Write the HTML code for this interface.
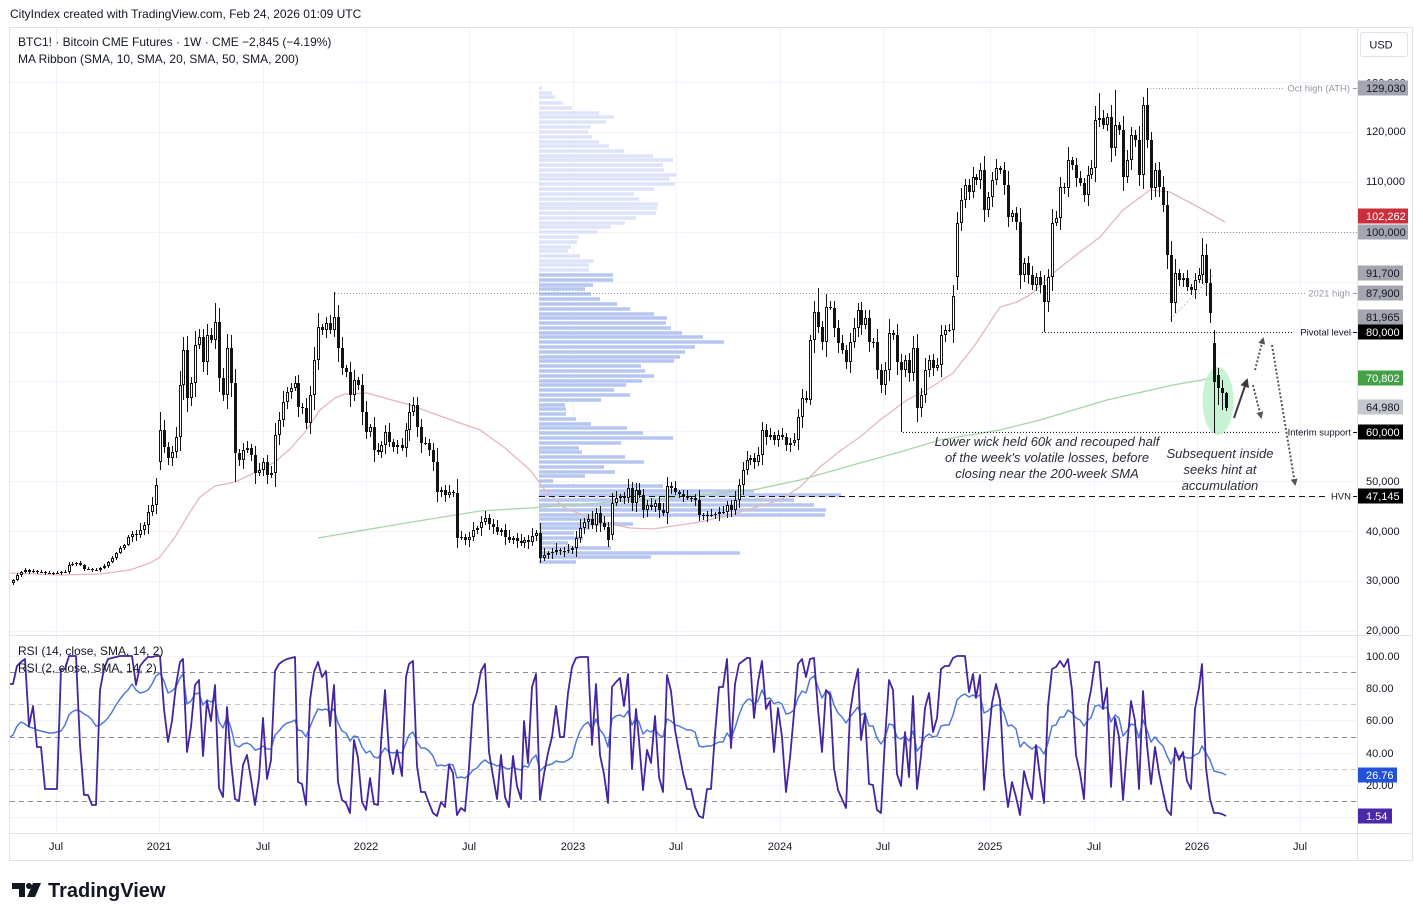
<!DOCTYPE html>
<html><head><meta charset="utf-8">
<style>
html,body{margin:0;padding:0;background:#fff;}
svg{display:block;font-family:"Liberation Sans",Arial,sans-serif;}
</style></head><body>
<svg width="1423" height="921" viewBox="0 0 1423 921" xmlns="http://www.w3.org/2000/svg">
<defs>
<clipPath id="cm"><rect x="10" y="28" width="1347" height="607"/></clipPath>
<clipPath id="cr"><rect x="10" y="636" width="1347" height="197"/></clipPath>
<marker id="ah" markerWidth="9" markerHeight="9" refX="7" refY="4.5" orient="auto" markerUnits="userSpaceOnUse"><path d="M0,0 L9,4.5 L0,9 z" fill="#3a3a3a"/></marker>
<marker id="ahd" markerWidth="7" markerHeight="7" refX="5" refY="3.5" orient="auto" markerUnits="userSpaceOnUse"><path d="M0,0 L7,3.5 L0,7 z" fill="#555"/></marker>
</defs>
<rect width="1423" height="921" fill="#fff"/>
<text x="10" y="18" font-size="12" fill="#131722">CityIndex created with TradingView.com, Feb 24, 2026 01:09 UTC</text>

<g stroke="#f0f3fa" stroke-width="1">
<line x1="56.5" y1="28" x2="56.5" y2="833"/><line x1="159.5" y1="28" x2="159.5" y2="833"/>
<line x1="263.5" y1="28" x2="263.5" y2="833"/><line x1="366.5" y1="28" x2="366.5" y2="833"/>
<line x1="469.5" y1="28" x2="469.5" y2="833"/><line x1="573.5" y1="28" x2="573.5" y2="833"/>
<line x1="676.5" y1="28" x2="676.5" y2="833"/><line x1="780.5" y1="28" x2="780.5" y2="833"/>
<line x1="883.5" y1="28" x2="883.5" y2="833"/><line x1="990.5" y1="28" x2="990.5" y2="833"/>
<line x1="1094.5" y1="28" x2="1094.5" y2="833"/><line x1="1197.5" y1="28" x2="1197.5" y2="833"/>
<line x1="1300.5" y1="28" x2="1300.5" y2="833"/>
<line x1="10" y1="82.5" x2="1357" y2="82.5"/><line x1="10" y1="132.5" x2="1357" y2="132.5"/>
<line x1="10" y1="182.5" x2="1357" y2="182.5"/><line x1="10" y1="232.5" x2="1357" y2="232.5"/>
<line x1="10" y1="282.5" x2="1357" y2="282.5"/><line x1="10" y1="332.5" x2="1357" y2="332.5"/>
<line x1="10" y1="381.5" x2="1357" y2="381.5"/><line x1="10" y1="431.5" x2="1357" y2="431.5"/>
<line x1="10" y1="481.5" x2="1357" y2="481.5"/><line x1="10" y1="531.5" x2="1357" y2="531.5"/>
<line x1="10" y1="581.5" x2="1357" y2="581.5"/><line x1="10" y1="631.5" x2="1357" y2="631.5"/>
<line x1="10" y1="656.5" x2="1357" y2="656.5"/><line x1="10" y1="688.5" x2="1357" y2="688.5"/>
<line x1="10" y1="720.5" x2="1357" y2="720.5"/><line x1="10" y1="753.5" x2="1357" y2="753.5"/>
<line x1="10" y1="785.5" x2="1357" y2="785.5"/><line x1="10" y1="817.5" x2="1357" y2="817.5"/>
</g>

<g clip-path="url(#cm)">
<path fill="#dde4f9" d="M539 86.2h3v3.6H539zM539 91.2h13v3.6H539zM539 95.2h16v3.6H539zM539 101.2h24v3.6H539zM539 106.2h33v3.6H539zM539 111.2h60v3.6H539zM539 115.2h75v3.6H539zM539 120.2h67v3.6H539zM539 125.2h51v3.6H539zM539 130.2h49v3.6H539zM539 135.2h53v3.6H539zM539 140.2h60v3.6H539zM539 144.2h70v3.6H539zM539 149.2h85v3.6H539zM539 154.2h114v3.6H539zM539 158.2h134v3.6H539zM539 163.2h124v3.6H539zM539 168.2h125v3.6H539zM539 173.2h137v3.6H539zM539 177.2h130v3.6H539zM539 182.2h136v3.6H539zM539 187.2h115v3.6H539zM539 192.2h95v3.6H539zM539 197.2h100v3.6H539zM539 202.2h119v3.6H539zM539 206.2h118v3.6H539zM539 211.2h117v3.6H539zM539 216.2h97v3.6H539zM539 221.2h86v3.6H539zM539 225.2h72v3.6H539zM539 230.2h58v3.6H539zM539 235.2h40v3.6H539zM539 240.2h38v3.6H539zM539 245.2h32v3.6H539zM539 249.2h29v3.6H539zM539 254.2h41v3.6H539zM539 259.2h55v3.6H539zM539 263.2h50v3.6H539zM539 268.2h50v3.6H539z"/>
<path fill="#b6c6f1" d="M539 273.2h74v3.6H539zM539 278.2h74v3.6H539zM539 283.2h54v3.6H539zM539 287.2h46v3.6H539zM539 292.2h52v3.6H539zM539 297.2h61v3.6H539zM539 302.2h78v3.6H539zM539 307.2h91v3.6H539zM539 312.2h115v3.6H539zM539 316.2h128v3.6H539zM539 321.2h127v3.6H539zM539 326.2h132v3.6H539zM539 331.2h143v3.6H539zM539 335.2h164v3.6H539zM539 340.2h185v3.6H539zM539 345.2h156v3.6H539zM539 350.2h146v3.6H539zM539 355.2h141v3.6H539zM539 359.2h135v3.6H539zM539 364.2h102v3.6H539zM539 369.2h106v3.6H539zM539 374.2h115v3.6H539zM539 379.2h103v3.6H539zM539 383.2h87v3.6H539zM539 388.2h75v3.6H539zM539 393.2h91v3.6H539zM539 398.2h62v3.6H539zM539 403.2h26v3.6H539zM539 407.2h27v3.6H539zM539 412.2h27v3.6H539zM539 417.2h37v3.6H539zM539 422.2h52v3.6H539zM539 426.2h88v3.6H539zM539 431.2h104v3.6H539zM539 436.2h134v3.6H539zM539 441.2h82v3.6H539zM539 446.2h40v3.6H539zM539 450.2h43v3.6H539zM539 455.2h86v3.6H539zM539 460.2h105v3.6H539zM539 465.2h65v3.6H539zM539 470.2h76v3.6H539zM539 474.2h46v3.6H539zM539 479.2h14v3.6H539zM539 484.2h124v3.6H539zM539 489.2h215v3.6H539zM539 493.2h302v3.6H539zM539 498.2h255v3.6H539zM539 503.2h275v3.6H539zM539 508.2h287v3.6H539zM539 513.2h286v3.6H539zM539 517.2h61v3.6H539zM539 522.2h94v3.6H539zM539 526.2h51v3.6H539zM539 531.2h35v3.6H539zM539 536.2h44v3.6H539zM539 541.2h29v3.6H539zM539 546.2h72v3.6H539zM539 551.2h201v3.6H539zM539 555.2h112v3.6H539zM539 560.2h37v3.6H539z"/>
<polyline fill="none" stroke="#e2b8bc" stroke-width="1.3" points="10,573 60,575 100,574 130,570 150,563 160,557 175,537 190,512 200,497 215,486 235,482 250,475 260,470 275,462 290,449 305,432 320,410 335,398 345,394 367,393 410,405 443,417 480,430 505,448 530,470 545,490 563,507 600,522 630,528 653,529 700,522 730,515 780,500 800,487 820,467 840,451 860,437 880,420 907,400 930,388 953,373 975,345 1000,307 1017,302 1030,295 1057,270 1080,252 1100,237 1123,210 1150,190 1170,192 1200,208 1225,222"/>
<polyline fill="none" stroke="#a9d3a9" stroke-width="1.3" points="318,538 400,524 480,511 530,508 600,503 680,497 753,490 800,480 860,463 900,452 940,440 1000,430 1040,420 1107,400 1173,385 1213,378 1225,378"/>
<line x1="1147" y1="88.5" x2="1284" y2="88.5" stroke="#9598a1" stroke-dasharray="1,2"/>
<line x1="1200" y1="232.5" x2="1357" y2="232.5" stroke="#9598a1" stroke-dasharray="1,2"/>
<line x1="335" y1="293.5" x2="1305" y2="293.5" stroke="#9598a1" stroke-dasharray="1,2"/>
<line x1="1042" y1="332.5" x2="1293" y2="332.5" stroke="#131722" stroke-dasharray="1,2"/>
<line x1="903" y1="432.5" x2="1279" y2="432.5" stroke="#131722" stroke-dasharray="1,2"/>
<line x1="539" y1="496.5" x2="1329" y2="496.5" stroke="#131722" stroke-dasharray="6,4"/>
<line x1="1170" y1="320" x2="1214" y2="274" stroke="#c4c4c4" stroke-dasharray="2,2"/>
<ellipse cx="1218" cy="401" rx="15.5" ry="34" fill="#bdf0cb" opacity="0.85"/>
<path fill="none" stroke="#131313" stroke-width="1" d="M13.5 579V585M17.5 573V581M21.5 571V577M25.5 568V573M29.5 569V574M33.5 569V573M37.5 570V574M41.5 570V573M45.5 571V575M49.5 571V574M53.5 572V575M57.5 571V574M61.5 571V575M65.5 570V573M69.5 562V574M72.5 562V566M76.5 562V566M80.5 561V566M84.5 564V571M88.5 567V570M92.5 568V572M96.5 568V571M100.5 567V572M104.5 564V569M108.5 561V568M112.5 556V563M116.5 552V560M120.5 546V554M124.5 544V550M128.5 535V546M132.5 531V542M136.5 530V541M140.5 523V538M144.5 522V535M148.5 505V534M152.5 497V516M156.5 478V514M160.5 412V470M164.5 420V453M168.5 442V465M172.5 446V466M176.5 427V458M180.5 371V451M183.5 337V400M187.5 336V412M191.5 377V406M195.5 331V397M199.5 329V349M203.5 329V372M207.5 324V375M211.5 328V343M215.5 303V349M219.5 308V392M223.5 368V401M227.5 334V409M231.5 335V397M235.5 369V482M239.5 449V466M243.5 443V469M247.5 441V453M251.5 444V461M255.5 446V484M259.5 463V476M263.5 458V476M267.5 455V484M271.5 466V478M275.5 423V487M279.5 412V445M283.5 391V427M287.5 387V409M291.5 383V399M295.5 376V391M298.5 375V417M302.5 403V414M306.5 398V429M310.5 386V434M314.5 347V410M318.5 313V370M322.5 324V335M326.5 317V338M330.5 315V334M334.5 292V337M338.5 305V362M342.5 337V375M346.5 365V377M350.5 362V407M354.5 370V401M358.5 377V390M362.5 374V425M366.5 401V439M370.5 424V437M374.5 417V462M378.5 443V455M381.5 441V458M385.5 425V454M389.5 423V447M393.5 439V452M397.5 440V454M402.5 438V451M406.5 423V457M409.5 403V441M413.5 397V416M417.5 397V437M421.5 419V453M425.5 437V445M429.5 439V456M433.5 443V471M437.5 448V502M441.5 487V497M445.5 485V502M449.5 485V498M453.5 490V497M457.5 479V548M461.5 531V540M465.5 534V545M469.5 532V547M473.5 522V541M477.5 526V534M481.5 516V536M485.5 511V525M489.5 514V530M493.5 519V534M497.5 520V535M501.5 528V536M505.5 524V545M509.5 530V543M513.5 536V544M517.5 533V548M521.5 534V546M524.5 537V548M528.5 535V549M532.5 528V546M536.5 530V541M540.5 523V563M544.5 548V561M548.5 551V559M552.5 548V559M556.5 543V555M560.5 548V555M564.5 547V557M568.5 544V553M572.5 546V554M576.5 531V557M580.5 519V543M584.5 518V534M588.5 514V529M592.5 511V529M596.5 508V532M600.5 506V532M604.5 516V530M608.5 522V547M612.5 493V540M616.5 491V506M620.5 494V502M624.5 492V504M628.5 479V503M632.5 482V511M636.5 483V512M639.5 483V498M643.5 489V518M647.5 500V517M651.5 498V510M655.5 500V512M659.5 497V518M663.5 503V516M667.5 477V524M671.5 482V494M675.5 481V495M679.5 490V498M683.5 490V502M687.5 490V500M691.5 496V502M695.5 494V506M699.5 490V521M703.5 513V520M707.5 511V522M711.5 509V517M715.5 512V519M719.5 507V521M723.5 506V514M727.5 501V518M731.5 500V517M735.5 491V515M739.5 479V508M743.5 462V495M747.5 451V475M750.5 455V465M754.5 453V469M758.5 447V466M762.5 422V465M766.5 424V445M770.5 428V440M774.5 432V445M778.5 430V447M782.5 428V440M786.5 433V451M790.5 438V452M794.5 433V446M798.5 409V450M802.5 389V428M806.5 391V403M810.5 335V405M814.5 301V353M818.5 288V333M822.5 321V350M826.5 294V357M830.5 301V310M834.5 301V337M838.5 320V353M842.5 335V354M846.5 345V369M850.5 333V373M854.5 318V348M858.5 303V337M861.5 302V335M865.5 310V329M869.5 310V352M873.5 338V348M877.5 329V379M881.5 364V393M885.5 362V395M889.5 319V381M893.5 330V340M897.5 324V375M901.5 354V432M905.5 355V377M909.5 353V382M913.5 336V381M917.5 334V422M921.5 388V417M925.5 358V403M929.5 355V377M933.5 354V376M937.5 358V371M941.5 325V377M945.5 325V342M949.5 324V332M953.5 285V343M957.5 212V290M961.5 188V231M965.5 179V208M969.5 179V200M973.5 167V198M976.5 174V185M980.5 163V189M984.5 156V222M988.5 192V217M992.5 172V207M996.5 159V185M1000.5 166V174M1004.5 162V195M1008.5 171V227M1012.5 210V222M1016.5 207V230M1020.5 208V289M1024.5 258V282M1028.5 256V284M1032.5 266V290M1036.5 273V291M1040.5 271V293M1044.5 275V332M1048.5 269V312M1052.5 209V291M1056.5 211V226M1060.5 177V230M1064.5 183V194M1068.5 147V197M1072.5 157V170M1076.5 158V187M1080.5 171V186M1084.5 178V202M1088.5 166V206M1091.5 160V179M1095.5 106V182M1099.5 93V127M1103.5 110V129M1107.5 113V131M1111.5 105V162M1115.5 90V156M1119.5 122V135M1123.5 116V191M1127.5 150V183M1131.5 127V170M1135.5 130V147M1139.5 126V186M1143.5 97V189M1147.5 88V148M1151.5 132V200M1155.5 163V197M1159.5 162V197M1163.5 176V212M1167.5 191V269M1171.5 241V322M1175.5 259V313M1179.5 269V286M1183.5 273V287M1187.5 270V291M1191.5 284V295M1195.5 273V299M1199.5 268V283M1202.5 238V284M1206.5 244V296M1210.5 269V323M1214.5 330V433M1218.5 368V405M1222.5 380V410M1226.5 392V411"/>
<path fill="#131313" d="M28 570h3v2h-3zM32 571h3v1h-3zM36 571h3v1h-3zM40 572h3v1h-3zM44 572h3v1h-3zM48 573h3v1h-3zM52 573h3v1h-3zM56 573h3v1h-3zM60 572h3v1h-3zM64 572h3v1h-3zM71 564h3v1h-3zM75 563h3v1h-3zM79 563h3v2h-3zM83 565h3v4h-3zM87 569h3v1h-3zM91 569h3v1h-3zM95 570h3v1h-3zM135 534h3v1h-3zM163 430h3v17h-3zM167 447h3v11h-3zM186 350h3v48h-3zM202 337h3v25h-3zM210 335h3v5h-3zM218 322h3v56h-3zM222 378h3v17h-3zM230 348h3v35h-3zM234 383h3v70h-3zM238 453h3v7h-3zM250 448h3v7h-3zM254 455h3v18h-3zM266 462h3v13h-3zM297 383h3v24h-3zM301 407h3v1h-3zM305 408h3v15h-3zM321 327h3v3h-3zM329 323h3v7h-3zM337 317h3v31h-3zM341 348h3v20h-3zM345 368h3v4h-3zM349 372h3v23h-3zM357 380h3v5h-3zM361 385h3v27h-3zM365 412h3v20h-3zM373 427h3v23h-3zM377 450h3v2h-3zM388 432h3v10h-3zM392 442h3v5h-3zM401 445h3v3h-3zM416 405h3v22h-3zM420 427h3v16h-3zM424 443h3v1h-3zM428 443h3v7h-3zM432 450h3v12h-3zM436 462h3v30h-3zM444 490h3v5h-3zM452 492h3v1h-3zM456 493h3v45h-3zM460 537h3v1h-3zM464 537h3v3h-3zM488 518h3v6h-3zM492 524h3v3h-3zM496 527h3v5h-3zM504 530h3v7h-3zM508 537h3v3h-3zM516 538h3v3h-3zM520 541h3v2h-3zM527 540h3v2h-3zM539 533h3v25h-3zM551 552h3v1h-3zM559 550h3v1h-3zM563 551h3v1h-3zM567 550h3v1h-3zM591 519h3v6h-3zM599 513h3v10h-3zM603 523h3v4h-3zM607 527h3v13h-3zM623 496h3v2h-3zM631 488h3v15h-3zM638 490h3v5h-3zM642 495h3v15h-3zM650 505h3v2h-3zM658 503h3v7h-3zM662 510h3v3h-3zM670 486h3v2h-3zM674 488h3v4h-3zM678 492h3v2h-3zM682 494h3v2h-3zM686 496h3v2h-3zM690 498h3v1h-3zM694 498h3v2h-3zM698 500h3v15h-3zM702 515h3v1h-3zM706 515h3v1h-3zM710 515h3v1h-3zM714 514h3v1h-3zM722 512h3v1h-3zM730 505h3v5h-3zM753 458h3v4h-3zM765 430h3v7h-3zM773 435h3v5h-3zM781 435h3v2h-3zM785 437h3v8h-3zM805 398h3v2h-3zM817 312h3v15h-3zM821 327h3v15h-3zM829 307h3v1h-3zM833 308h3v20h-3zM837 328h3v15h-3zM841 343h3v7h-3zM845 350h3v12h-3zM860 310h3v15h-3zM868 318h3v24h-3zM872 342h3v1h-3zM876 342h3v28h-3zM880 370h3v15h-3zM892 333h3v2h-3zM896 335h3v27h-3zM900 362h3v8h-3zM908 360h3v13h-3zM916 348h3v60h-3zM932 360h3v8h-3zM948 330h3v1h-3zM968 185h3v7h-3zM975 177h3v3h-3zM983 170h3v40h-3zM999 168h3v2h-3zM1003 170h3v15h-3zM1007 185h3v32h-3zM1015 213h3v9h-3zM1019 222h3v53h-3zM1027 263h3v12h-3zM1031 275h3v10h-3zM1039 277h3v8h-3zM1043 285h3v17h-3zM1063 187h3v1h-3zM1071 160h3v5h-3zM1075 165h3v13h-3zM1079 178h3v5h-3zM1083 183h3v12h-3zM1102 118h3v7h-3zM1110 117h3v31h-3zM1118 125h3v5h-3zM1122 130h3v47h-3zM1134 135h3v5h-3zM1138 140h3v35h-3zM1146 105h3v35h-3zM1150 140h3v48h-3zM1158 170h3v17h-3zM1162 187h3v18h-3zM1166 205h3v50h-3zM1170 255h3v48h-3zM1178 273h3v7h-3zM1186 278h3v9h-3zM1190 287h3v3h-3zM1205 255h3v28h-3zM1209 283h3v30h-3zM1213 343h3v39h-3zM1217 375h3v13h-3zM1221 388h3v5h-3zM1225 393h3v15h-3z"/>
<path fill="#fff" stroke="#131313" stroke-width="1" d="M12.5 580.5h2v2h-2zM16.5 575.5h2v4h-2zM20.5 572.5h2v2h-2zM24.5 570.5h2v1h-2zM68.5 565.5h2v6h-2zM99.5 568.5h2v1h-2zM103.5 566.5h2v1h-2zM107.5 562.5h2v3h-2zM111.5 558.5h2v3h-2zM115.5 553.5h2v4h-2zM119.5 548.5h2v4h-2zM123.5 545.5h2v2h-2zM127.5 537.5h2v7h-2zM131.5 534.5h2v2h-2zM139.5 530.5h2v4h-2zM143.5 525.5h2v4h-2zM147.5 512.5h2v12h-2zM151.5 505.5h2v6h-2zM155.5 485.5h2v19h-2zM159.5 430.5h2v31h-2zM171.5 452.5h2v5h-2zM175.5 437.5h2v14h-2zM179.5 385.5h2v51h-2zM182.5 350.5h2v34h-2zM190.5 383.5h2v14h-2zM194.5 345.5h2v37h-2zM198.5 337.5h2v7h-2zM206.5 335.5h2v26h-2zM214.5 322.5h2v17h-2zM226.5 348.5h2v46h-2zM242.5 450.5h2v9h-2zM246.5 448.5h2v1h-2zM258.5 470.5h2v2h-2zM262.5 462.5h2v7h-2zM270.5 473.5h2v1h-2zM274.5 435.5h2v37h-2zM278.5 420.5h2v14h-2zM282.5 402.5h2v17h-2zM286.5 392.5h2v9h-2zM290.5 388.5h2v3h-2zM294.5 383.5h2v4h-2zM309.5 395.5h2v27h-2zM313.5 360.5h2v34h-2zM317.5 327.5h2v32h-2zM325.5 323.5h2v6h-2zM333.5 317.5h2v12h-2zM353.5 380.5h2v14h-2zM369.5 427.5h2v4h-2zM380.5 445.5h2v6h-2zM384.5 432.5h2v12h-2zM396.5 445.5h2v1h-2zM405.5 430.5h2v17h-2zM408.5 412.5h2v17h-2zM412.5 405.5h2v6h-2zM440.5 490.5h2v1h-2zM448.5 492.5h2v2h-2zM468.5 537.5h2v2h-2zM472.5 530.5h2v6h-2zM476.5 528.5h2v1h-2zM480.5 522.5h2v5h-2zM484.5 518.5h2v3h-2zM500.5 530.5h2v1h-2zM512.5 538.5h2v1h-2zM523.5 540.5h2v2h-2zM531.5 536.5h2v5h-2zM535.5 533.5h2v2h-2zM543.5 555.5h2v2h-2zM547.5 553.5h2v1h-2zM555.5 550.5h2v1h-2zM571.5 548.5h2v1h-2zM575.5 538.5h2v9h-2zM579.5 528.5h2v9h-2zM583.5 522.5h2v5h-2zM587.5 519.5h2v2h-2zM595.5 513.5h2v11h-2zM611.5 503.5h2v31h-2zM615.5 498.5h2v4h-2zM619.5 496.5h2v1h-2zM627.5 488.5h2v9h-2zM635.5 490.5h2v12h-2zM646.5 505.5h2v4h-2zM654.5 503.5h2v3h-2zM666.5 486.5h2v26h-2zM718.5 512.5h2v1h-2zM726.5 505.5h2v6h-2zM734.5 500.5h2v9h-2zM738.5 485.5h2v14h-2zM742.5 470.5h2v14h-2zM746.5 460.5h2v9h-2zM749.5 458.5h2v1h-2zM757.5 455.5h2v6h-2zM761.5 430.5h2v24h-2zM769.5 435.5h2v1h-2zM777.5 435.5h2v4h-2zM789.5 443.5h2v1h-2zM793.5 440.5h2v2h-2zM797.5 417.5h2v22h-2zM801.5 398.5h2v18h-2zM809.5 340.5h2v59h-2zM813.5 312.5h2v27h-2zM825.5 307.5h2v34h-2zM849.5 342.5h2v19h-2zM853.5 328.5h2v13h-2zM857.5 310.5h2v17h-2zM864.5 318.5h2v6h-2zM884.5 370.5h2v14h-2zM888.5 333.5h2v36h-2zM904.5 360.5h2v9h-2zM912.5 348.5h2v24h-2zM920.5 395.5h2v12h-2zM924.5 370.5h2v24h-2zM928.5 360.5h2v9h-2zM936.5 365.5h2v2h-2zM940.5 335.5h2v29h-2zM944.5 330.5h2v4h-2zM952.5 296.5h2v33h-2zM956.5 223.5h2v53h-2zM960.5 200.5h2v22h-2zM964.5 185.5h2v14h-2zM972.5 177.5h2v14h-2zM979.5 170.5h2v9h-2zM987.5 197.5h2v12h-2zM991.5 180.5h2v16h-2zM995.5 168.5h2v11h-2zM1011.5 213.5h2v3h-2zM1023.5 263.5h2v11h-2zM1035.5 277.5h2v7h-2zM1047.5 277.5h2v24h-2zM1051.5 223.5h2v53h-2zM1055.5 218.5h2v4h-2zM1059.5 187.5h2v30h-2zM1067.5 160.5h2v27h-2zM1087.5 175.5h2v19h-2zM1090.5 168.5h2v6h-2zM1094.5 120.5h2v47h-2zM1098.5 118.5h2v1h-2zM1106.5 117.5h2v7h-2zM1114.5 125.5h2v22h-2zM1126.5 160.5h2v16h-2zM1130.5 135.5h2v24h-2zM1142.5 105.5h2v69h-2zM1154.5 170.5h2v17h-2zM1174.5 273.5h2v29h-2zM1182.5 278.5h2v1h-2zM1194.5 280.5h2v9h-2zM1198.5 275.5h2v4h-2zM1201.5 255.5h2v19h-2z"/>
<line x1="1234" y1="418" x2="1247" y2="380" stroke="#3a3a3a" stroke-width="2" marker-end="url(#ah)"/>
<line x1="1255" y1="370" x2="1263" y2="339" stroke="#555" stroke-width="2" stroke-dasharray="2,2" marker-end="url(#ahd)"/>
<line x1="1253" y1="385" x2="1261" y2="417" stroke="#555" stroke-width="2" stroke-dasharray="2,2" marker-end="url(#ahd)"/>
<line x1="1272" y1="345" x2="1295" y2="484" stroke="#555" stroke-width="2" stroke-dasharray="2,2" marker-end="url(#ahd)"/>
<g font-size="13" font-style="italic" fill="#2a2e39" text-anchor="middle">
<text x="1047" y="446">Lower wick held 60k and recouped half</text>
<text x="1047" y="462">of the week's volatile losses, before</text>
<text x="1047" y="478">closing near the 200-week SMA</text>
<text x="1220" y="458">Subsequent inside</text>
<text x="1220" y="474">seeks hint at</text>
<text x="1220" y="490">accumulation</text>
</g>
<g font-size="9.5" text-anchor="end">
<text x="1350" y="91.5" fill="#9598a1">Oct high (ATH)</text>
<text x="1350" y="296.5" fill="#9598a1">2021 high</text>
<text x="1351" y="335.5" fill="#131722">Pivotal level</text>
<text x="1351" y="435.5" fill="#131722">Interim support</text>
<text x="1351" y="499.5" fill="#131722">HVN</text>
</g>
<g stroke-width="1">
<line x1="1353" y1="88.5" x2="1357" y2="88.5" stroke="#9598a1"/>
<line x1="1353" y1="293.5" x2="1357" y2="293.5" stroke="#9598a1"/>
<line x1="1353" y1="332.5" x2="1357" y2="332.5" stroke="#131722"/>
<line x1="1353" y1="432.5" x2="1357" y2="432.5" stroke="#131722"/>
<line x1="1353" y1="496.5" x2="1357" y2="496.5" stroke="#131722"/>
</g>
</g>
<text x="18" y="46" font-size="12" fill="#131722">BTC1! · Bitcoin CME Futures · 1W · CME  −2,845 (−4.19%)</text>
<text x="18" y="63" font-size="12" fill="#131722">MA Ribbon (SMA, 10, SMA, 20, SMA, 50, SMA, 200)</text>

<g clip-path="url(#cr)">
<line x1="10" y1="672.5" x2="1357" y2="672.5" stroke="#8a8d96" stroke-dasharray="5,4"/>
<line x1="10" y1="704.5" x2="1357" y2="704.5" stroke="#c8cad1" stroke-dasharray="5,4"/>
<line x1="10" y1="737.5" x2="1357" y2="737.5" stroke="#8a8d96" stroke-dasharray="5,4"/>
<line x1="10" y1="769.5" x2="1357" y2="769.5" stroke="#c8cad1" stroke-dasharray="5,4"/>
<line x1="10" y1="801.5" x2="1357" y2="801.5" stroke="#8a8d96" stroke-dasharray="5,4"/>
<polyline fill="none" stroke="#4f78d9" stroke-width="1.5" stroke-linejoin="round" points="10,737 13,735 17,726 21,722 25,724 29,727 33,728 37,730 41,731 45,732 49,733 53,733 57,732 61,731 65,725 69,715 72,712 76,710 80,711 84,714 88,716 92,720 96,726 100,725 104,722 108,718 112,712 116,705 120,699 124,694 128,690 132,684 136,690 140,693 144,692 148,690 152,684 156,676 160,673 164,681 168,693 172,691 176,687 180,678 183,674 187,704 191,701 195,694 199,693 203,705 207,700 211,702 215,699 219,722 223,728 227,717 231,728 235,745 239,747 243,744 247,743 251,745 255,750 259,749 263,746 267,749 271,749 275,735 279,731 283,726 287,723 291,722 295,720 298,730 302,731 306,737 310,727 314,717 318,709 322,710 326,709 330,712 334,709 338,723 342,731 346,733 350,741 354,736 358,737 362,747 366,753 370,751 374,757 378,758 381,754 385,748 389,752 393,753 397,752 402,753 406,743 409,735 413,732 417,742 421,748 425,748 429,751 433,756 437,766 441,765 445,766 449,764 453,765 457,778 461,777 465,778 469,775 473,770 477,768 481,763 485,760 489,763 493,764 497,766 501,765 505,768 509,769 513,767 517,769 521,770 524,766 528,767 532,759 536,755 540,771 544,767 548,765 552,764 556,761 560,762 564,762 568,760 572,757 576,742 580,731 584,725 588,722 592,730 596,719 600,730 604,735 608,747 612,719 616,716 620,715 624,717 628,711 632,725 636,718 639,722 643,734 647,730 651,732 655,729 659,735 663,737 667,719 671,721 675,725 679,726 683,728 687,730 691,730 695,732 699,746 703,747 707,746 711,746 715,744 719,742 723,742 727,733 731,739 735,728 739,715 743,705 747,700 750,699 754,704 758,701 762,690 766,699 770,698 774,704 778,702 782,704 786,714 790,713 794,710 798,698 802,691 806,693 810,679 814,676 818,687 822,698 826,691 830,692 834,705 838,713 842,717 846,723 850,717 854,712 858,707 861,715 865,713 869,726 873,726 877,738 881,744 885,738 889,724 893,725 897,737 901,739 905,736 909,741 913,731 917,751 921,746 925,737 929,734 933,737 937,736 941,726 945,725 949,725 953,715 957,700 961,696 965,694 969,697 973,695 976,697 980,695 984,713 988,711 992,707 996,705 1000,705 1004,713 1008,726 1012,725 1016,729 1020,747 1024,742 1028,746 1032,749 1036,746 1040,748 1044,754 1048,743 1052,726 1056,725 1060,717 1064,717 1068,710 1072,713 1076,718 1080,720 1084,726 1088,720 1091,718 1095,706 1099,705 1103,709 1107,707 1111,722 1115,715 1119,718 1123,736 1127,731 1131,724 1135,725 1139,738 1143,720 1147,730 1151,742 1155,737 1159,742 1163,746 1167,756 1171,764 1175,755 1179,756 1183,756 1187,758 1191,758 1195,755 1199,753 1202,746 1206,753 1210,760 1214,771 1218,772 1222,773 1226,775"/>
<polyline fill="none" stroke="#44249f" stroke-width="1.8" stroke-linejoin="round" points="10,684 13,684 17,666 21,662 25,659 29,726 33,706 37,747 41,747 45,789 49,789 53,789 57,789 61,669 65,669 69,656 72,656 76,656 80,745 84,795 88,795 92,805 96,805 100,690 104,669 108,659 112,658 116,657 120,656 124,656 128,656 132,656 136,685 140,666 144,661 148,657 152,657 156,656 160,656 164,709 168,742 172,721 176,685 180,662 183,659 187,752 191,727 195,685 199,680 203,756 207,701 211,721 215,685 219,788 223,797 227,707 231,761 235,799 239,801 243,765 247,755 251,779 255,805 259,778 263,718 267,779 271,760 275,671 279,664 283,661 287,659 291,658 295,657 298,782 302,784 306,805 310,700 314,672 318,662 322,677 326,671 330,726 334,685 338,782 342,800 346,803 350,813 354,740 358,758 362,802 366,810 370,778 374,804 378,805 381,743 385,690 389,752 393,774 397,750 402,776 406,677 409,664 413,661 417,766 421,792 425,792 429,803 433,813 437,816 441,802 445,807 449,765 453,773 457,815 461,808 465,811 469,767 473,705 477,692 481,671 485,664 489,752 493,776 497,799 501,755 505,797 509,807 513,756 517,786 521,799 524,721 528,763 532,687 536,674 540,800 544,774 548,753 552,737 556,706 560,737 564,737 568,693 572,667 576,658 580,657 584,657 588,657 592,745 596,684 600,755 604,774 608,803 612,687 616,682 620,678 624,706 628,674 632,769 636,709 639,740 643,790 647,750 651,763 655,716 659,777 663,792 667,675 671,691 675,730 679,752 683,773 687,789 691,789 695,807 699,816 703,818 707,789 711,789 715,734 719,687 723,687 727,659 731,748 735,684 739,664 743,661 747,658 750,658 754,718 758,682 762,661 766,709 770,701 774,752 778,708 782,737 786,792 790,758 794,713 798,664 802,659 806,677 810,659 814,658 818,709 822,752 826,690 830,695 834,768 838,790 842,799 846,808 850,713 854,687 858,669 861,740 865,714 869,784 873,785 877,810 881,813 885,739 889,680 893,690 897,774 901,786 905,732 909,777 913,696 917,789 921,756 925,708 929,693 933,732 937,718 941,669 945,666 949,666 953,658 957,656 961,656 965,656 969,692 973,674 976,698 980,675 984,790 988,744 992,703 996,684 1000,700 1004,775 1008,807 1012,782 1016,797 1020,815 1024,771 1028,787 1032,799 1036,745 1040,776 1044,803 1048,706 1052,669 1056,667 1060,661 1064,667 1068,659 1072,690 1076,755 1080,773 1084,799 1088,705 1091,690 1095,662 1099,662 1103,709 1107,688 1111,787 1115,718 1119,737 1123,800 1127,748 1131,701 1135,721 1139,789 1143,691 1147,745 1151,784 1155,747 1159,773 1163,792 1167,810 1171,815 1175,748 1179,760 1183,752 1187,781 1191,789 1195,709 1199,688 1202,664 1206,768 1210,799 1214,813 1218,813 1222,814 1226,816"/>
</g>
<text x="18" y="655" font-size="12" fill="#131722">RSI (14, close, SMA, 14, 2)</text>
<text x="18" y="672" font-size="12" fill="#131722">RSI (2, close, SMA, 14, 2)</text>

<rect x="9.5" y="27.5" width="1403" height="833" fill="none" stroke="#e0e3eb"/>
<line x1="1357.5" y1="28" x2="1357.5" y2="861" stroke="#e0e3eb"/>
<line x1="10" y1="635.5" x2="1413" y2="635.5" stroke="#e0e3eb"/>
<line x1="10" y1="833.5" x2="1413" y2="833.5" stroke="#e0e3eb"/>

<rect x="1360.5" y="32.5" width="47" height="24" fill="#fff" stroke="#e0e3eb" rx="2"/>
<text x="1381" y="48.5" font-size="11" fill="#131722" text-anchor="middle">USD</text>

<g font-size="11" fill="#131722">
<text x="1366" y="86.5">130,000</text>
<text x="1366" y="135">120,000</text>
<text x="1366" y="185">110,000</text>
<text x="1366" y="485">50,000</text>
<text x="1366" y="535">40,000</text>
<text x="1366" y="584">30,000</text>
<text x="1366" y="634">20,000</text>
<text x="1366" y="660">100.00</text>
<text x="1366" y="692">80.00</text>
<text x="1366" y="724">60.00</text>
<text x="1366" y="757">40.00</text>
<text x="1366" y="789">20.00</text>
</g>
<g font-size="11">
<rect x="1358" y="80.5" width="50" height="15" fill="#a3a6af"/><text x="1366" y="92" fill="#131722">129,030</text>
<rect x="1358" y="208.5" width="50" height="15" fill="#cc2f3c"/><text x="1366" y="220" fill="#fff">102,262</text>
<rect x="1358" y="224.5" width="50" height="15" fill="#a3a6af"/><text x="1366" y="236" fill="#131722">100,000</text>
<rect x="1358" y="265.5" width="45" height="15" fill="#a3a6af"/><text x="1366" y="277" fill="#131722">91,700</text>
<rect x="1358" y="285.5" width="45" height="15" fill="#a3a6af"/><text x="1366" y="297" fill="#131722">87,900</text>
<rect x="1358" y="309.5" width="45" height="15" fill="#a3a6af"/><text x="1366" y="321" fill="#131722">81,965</text>
<rect x="1358" y="324.5" width="45" height="15" fill="#000"/><text x="1366" y="336" fill="#fff">80,000</text>
<rect x="1358" y="370.5" width="45" height="15" fill="#43a047"/><text x="1366" y="382" fill="#fff">70,802</text>
<rect x="1358" y="399.5" width="45" height="15" fill="#c5c7ce"/><text x="1366" y="411" fill="#131722">64,980</text>
<rect x="1358" y="424.5" width="45" height="15" fill="#000"/><text x="1366" y="436" fill="#fff">60,000</text>
<rect x="1358" y="488.5" width="45" height="15" fill="#000"/><text x="1366" y="500" fill="#fff">47,145</text>
<rect x="1358" y="767.5" width="39" height="15" fill="#2152d9"/><text x="1366" y="779" fill="#fff">26.76</text>
<rect x="1358" y="808.5" width="34" height="15" fill="#4a28a6"/><text x="1366" y="820" fill="#fff">1.54</text>
</g>

<g font-size="11" fill="#131722" text-anchor="middle">
<text x="56" y="850">Jul</text><text x="159" y="850">2021</text><text x="263" y="850">Jul</text>
<text x="366" y="850">2022</text><text x="469" y="850">Jul</text><text x="573" y="850">2023</text>
<text x="676" y="850">Jul</text><text x="780" y="850">2024</text><text x="883" y="850">Jul</text>
<text x="990" y="850">2025</text><text x="1094" y="850">Jul</text><text x="1197" y="850">2026</text>
<text x="1300" y="850">Jul</text>
</g>

<g fill="#131722">
<path d="M12 883 H25 V897 H19 V889 H12 Z"/>
<circle cx="29" cy="886" r="3"/>
<path d="M33 883 H41 L35 897 H27 Z"/>
</g>
<text x="48" y="897" font-size="20" font-weight="bold" fill="#131722">TradingView</text>
</svg>
</body></html>
